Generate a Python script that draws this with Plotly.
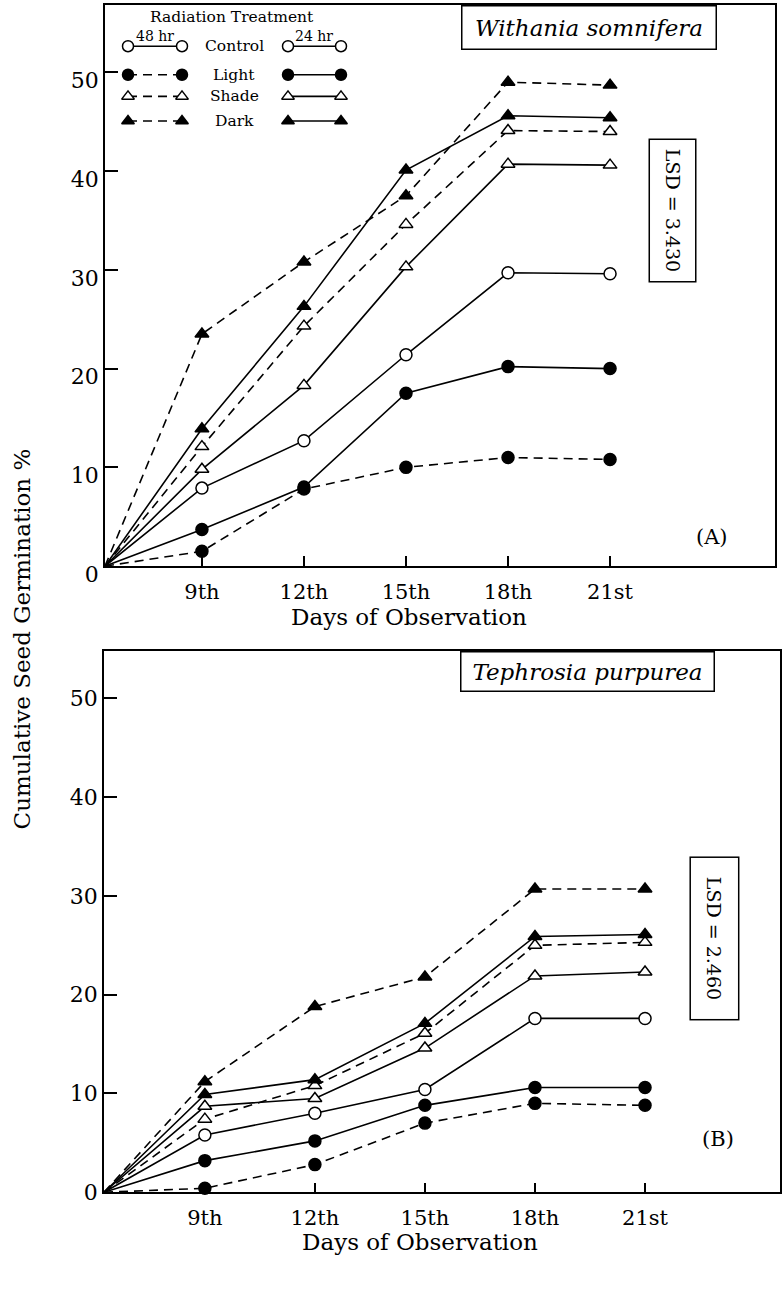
import plotly.graph_objects as go

W, H = 782, 1289
FONT = "DejaVu Serif"

# ---------------- data ----------------
days_a = [6.15, 9, 12, 15, 18, 21]
days_b = [6.25, 9, 12, 15, 18, 21]
tick_days = [9, 12, 15, 18, 21]
tick_text = ["9th", "12th", "15th", "18th", "21st"]
y_ticks = [0, 10, 20, 30, 40, 50]
y_tick_text = ["0", "10", "20", "30", "40", "50"]

treatments = ["Control", "Light", "Shade", "Dark"]

# Panel A - Withania somnifera
a_light_48 = [0, 1.5, 7.8, 10.0, 11.0, 10.8]
a_shade_48 = [0, 12.1, 24.3, 34.6, 44.1, 44.0]
a_dark_48 = [0, 23.5, 30.8, 37.5, 49.0, 48.7]
a_control_24 = [0, 7.9, 12.7, 21.4, 29.7, 29.6]
a_light_24 = [0, 3.7, 8.0, 17.5, 20.2, 20.0]
a_shade_24 = [0, 9.8, 18.3, 30.3, 40.7, 40.6]
a_dark_24 = [0, 13.9, 26.3, 40.1, 45.6, 45.4]

# Panel B - Tephrosia purpurea
b_light_48 = [0, 0.4, 2.8, 7.0, 9.0, 8.8]
b_shade_48 = [0, 7.4, 10.8, 16.1, 25.0, 25.3]
b_dark_48 = [0, 11.2, 18.8, 21.8, 30.7, 30.7]
b_control_24 = [0, 5.8, 8.0, 10.4, 17.6, 17.6]
b_light_24 = [0, 3.2, 5.2, 8.8, 10.6, 10.6]
b_shade_24 = [0, 8.7, 9.5, 14.6, 21.9, 22.3]
b_dark_24 = [0, 9.9, 11.4, 17.1, 25.9, 26.1]

# ---------------- styles ----------------
STYLE = {
    "Control": ("circle", "white"),
    "Light": ("circle", "black"),
    "Shade": ("triangle-up", "white"),
    "Dark": ("triangle-up", "black"),
}
DASH = "9px,6px"
LW = 1.6

fig = go.Figure()

series_a = [("Light", 48, a_light_48), ("Shade", 48, a_shade_48), ("Dark", 48, a_dark_48),
            ("Control", 24, a_control_24), ("Light", 24, a_light_24),
            ("Shade", 24, a_shade_24), ("Dark", 24, a_dark_24)]
series_b = [("Light", 48, b_light_48), ("Shade", 48, b_shade_48), ("Dark", 48, b_dark_48),
            ("Control", 24, b_control_24), ("Light", 24, b_light_24),
            ("Shade", 24, b_shade_24), ("Dark", 24, b_dark_24)]

for days, series, xa, ya in [(days_a, series_a, "x", "y"), (days_b, series_b, "x2", "y2")]:
    for treat, hrs, vals in series:
        fig.add_trace(go.Scatter(
            x=days, y=vals, mode="lines", xaxis=xa, yaxis=ya,
            line=dict(color="black", width=LW, dash=DASH if hrs == 48 else "solid"),
            showlegend=False, hoverinfo="skip", cliponaxis=False))
    for treat, hrs, vals in series:
        sym, fill = STYLE[treat]
        fig.add_trace(go.Scatter(
            x=days[1:], y=vals[1:], mode="markers", xaxis=xa, yaxis=ya,
            marker=dict(symbol=sym, size=12, color=fill, line=dict(color="black", width=1.5)),
            showlegend=False, hoverinfo="skip", cliponaxis=False))

# ---------------- legend (drawn in pixel overlay axes) ----------------
legend_row_y = [47, 76, 98, 123]
left_sample_x = [128, 182]
right_sample_x = [288, 341]
for i, treat in enumerate(treatments):
    sym, fill = STYLE[treat]
    for xs, dashed in [(left_sample_x, treat != "Control"), (right_sample_x, False)]:
        fig.add_trace(go.Scatter(
            x=xs, y=[legend_row_y[i]] * 2, mode="lines+markers", xaxis="x3", yaxis="y3",
            line=dict(color="black", width=LW, dash=DASH if dashed else "solid"),
            marker=dict(symbol=sym, size=11, color=fill, line=dict(color="black", width=1.5)),
            showlegend=False, hoverinfo="skip", cliponaxis=False))


# ---------------- layout ----------------
def px_x(p):
    return p / W


def px_y(p):
    return 1 - p / H


axis_common = dict(showline=True, linecolor="black", linewidth=1.5, mirror=True,
                   showgrid=False, zeroline=False, ticks="inside", tickcolor="black",
                   tickwidth=1.5)

fig.update_layout(
    width=W, height=H, margin=dict(l=0, r=0, t=0, b=0),
    paper_bgcolor="white", plot_bgcolor="rgba(0,0,0,0)",
    font=dict(family=FONT, color="black"),
    xaxis=dict(domain=[px_x(105), px_x(775)], range=[6.15, 25.85], anchor="y",
               tickvals=tick_days, ticktext=tick_text, ticklen=10, ticklabelstandoff=6,
               tickfont=dict(size=21, family=FONT), **axis_common),
    yaxis=dict(domain=[px_y(575.5), px_y(5)], range=[0, 56.82], anchor="x",
               tickvals=y_ticks, ticktext=y_tick_text, ticklen=13, ticklabelshift=8,
               tickfont=dict(size=22, family=FONT), **axis_common),
    xaxis2=dict(domain=[px_x(104), px_x(780)], range=[6.25, 24.68], anchor="y2",
                tickvals=tick_days, ticktext=tick_text, ticklen=10, ticklabelstandoff=6,
                tickfont=dict(size=21, family=FONT), **axis_common),
    yaxis2=dict(domain=[px_y(1212), px_y(662)], range=[0, 54.78], anchor="x2",
                tickvals=y_ticks, ticktext=y_tick_text, ticklen=13,
                tickfont=dict(size=22, family=FONT), **axis_common),
    xaxis3=dict(domain=[0, 1], range=[0, W], visible=False, anchor="y3", fixedrange=True),
    yaxis3=dict(domain=[0, 1], range=[H, 0], visible=False, anchor="x3", fixedrange=True),
)

ann = []


def add_text(text, x, y, size, angle=0, **kw):
    ann.append(dict(text=text, x=px_x(x), y=px_y(y), xref="paper", yref="paper",
                    showarrow=False, xanchor="center", yanchor="middle",
                    textangle=angle, font=dict(size=size, family=FONT, color="black"), **kw))


def add_box(text, x, y, size, w, h, angle=0):
    add_text(text, x, y, size, angle, width=w, height=h, bordercolor="black",
             borderwidth=1.5, borderpad=0, bgcolor="white", align="center")


# legend texts
add_text("Radiation Treatment", 232, 17, 15.5)
add_text("48 hr", 155, 37, 14)
add_text("24 hr", 314, 37, 14)
for i, treat in enumerate(treatments):
    add_text(treat, 234, legend_row_y[i], 15.5)

# titles and LSD boxes
add_box("<i>Withania somnifera</i>", 589, 27.5, 23, 253, 42)
add_box("<i>Tephrosia purpurea</i>", 587.5, 682.5, 23, 252, 38)
add_box("LSD = 3.430", 673, 214, 19, 141, 45, angle=90)
add_box("LSD = 2.460", 714, 954, 19, 161, 47, angle=90)

add_text("(A)", 712, 546, 21)
add_text("(B)", 718, 1158, 21)

add_text("Days of Observation", 409, 627, 23)
add_text("Days of Observation", 420, 1263, 23)
add_text("Cumulative Seed Germination %", 22, 650, 23, angle=-90)

fig.update_layout(annotations=ann)

fig.write_html("out.html")
